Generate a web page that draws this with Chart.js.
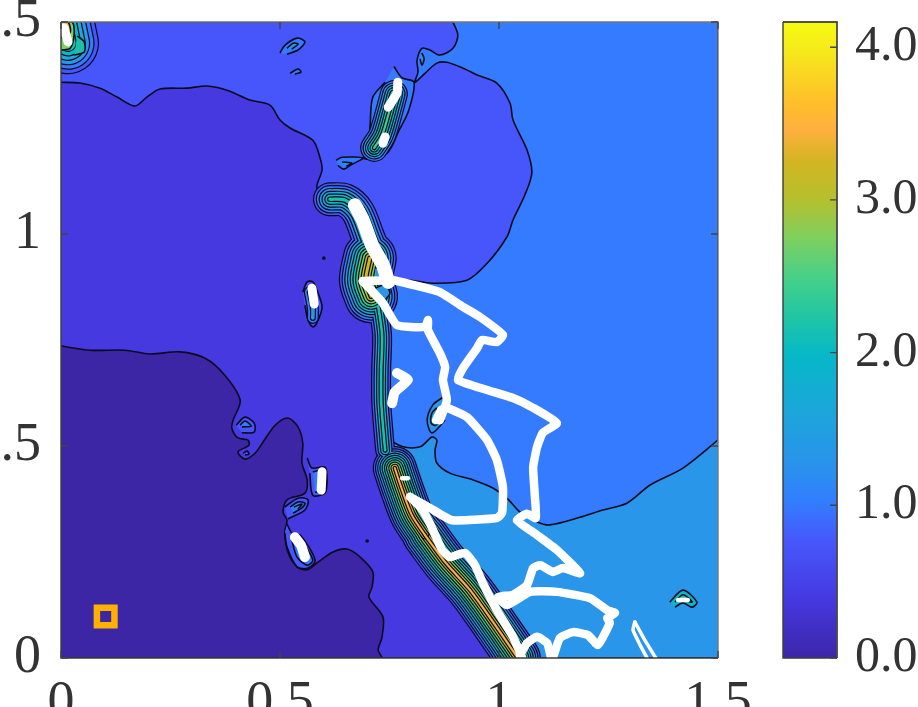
<!DOCTYPE html>
<html>
<head>
  <title>Contour map</title>
  <script src="https://cdn.jsdelivr.net/npm/chart.js"></script>
  <style>
    body { margin: 0; background: #fff; overflow: hidden; }
    canvas { position: absolute; top: 0; }
    #mapChart { left: 0; }
    #barChart { left: 760px; }
  </style>
</head>
<body>
  <canvas id="mapChart" width="760" height="707"></canvas>
  <canvas id="barChart" width="158" height="707"></canvas>
  <script>
    // axis labels
    const axisTicks = [0, 0.5, 1, 1.5];
    const axisTickLabels = ['0', '0.5', '1', '1.5'];
    const barTicks = [0, 1, 2, 3, 4];
    const barTickLabels = ['0.0', '1.0', '2.0', '3.0', '4.0'];
    const barRange = [0, 4.165];
    const barStopValues = [0, 0.38, 0.77, 1.03, 1.23, 1.56, 1.98, 2.2, 2.48, 2.74, 3.0, 3.26, 3.46, 3.65, 4.0, 4.165];
    const barStopColors = ['#3c26a8', '#4538e0', '#4658fb', '#327eff', '#2a90ee', '#1fa3dd', '#06b8c8', '#1cc4a8',
      '#45d08a', '#7cd060', '#b5c02e', '#d4b522', '#ffb040', '#ffc02a', '#f5ec1a', '#f8fa10'];

    // filled contour regions as [x, y]
    const baseRegion = [[0, 0], [1.5, 0], [1.5, 1.5], [0, 1.5]];
    const lowRegion = [[0, .736], [.066, .726], [.146, .726], [.203, .717], [.272, .722], [.329, .707], [.374, .667],
      [.409, .608], [.393, .561], [.390, .542], [.404, .519], [.427, .514], [.429, .502], [.404, .486], [.420, .469],
      [.443, .483], [.461, .509], [.489, .549], [.518, .566], [.541, .545], [.552, .507], [.550, .460], [.562, .420],
      [.557, .389], [.516, .373], [.507, .344], [.516, .325], [.511, .297], [.518, .250], [.539, .215], [.562, .208],
      [.584, .224], [.621, .250], [.653, .257], [.683, .238], [.712, .203], [.710, .167], [.703, .144], [.735, .097],
      [.733, .050], [.724, .019], [.731, 0], [0, 0]];
    const upperRegion = [[0, 1.5], [1.5, 1.5], [1.5, 0], [1.043, 0], [1.002, .066], [.934, .160], [.865, .231],
      [.815, .302], [.797, .349], [.781, .420], [.762, .467], [.728, .561], [.728, .750], [.717, .821], [.687, .891],
      [.701, .993], [.678, 1.052], [.648, 1.080], [.596, 1.092], [.584, 1.111], [.596, 1.151], [.591, 1.181],
      [.575, 1.221], [.523, 1.250], [.500, 1.269], [.477, 1.304], [.431, 1.316], [.379, 1.339], [.333, 1.349],
      [.288, 1.344], [.226, 1.342], [.196, 1.323], [.169, 1.302], [.128, 1.323], [.089, 1.344], [.043, 1.356], [0, 1.358]];
    const eastRegion = [[.895, 1.5], [.906, 1.469], [.895, 1.438], [.865, 1.422], [.842, 1.434], [.824, 1.438],
      [.813, 1.410], [.815, 1.382], [.808, 1.358], [.831, 1.379], [.858, 1.403], [.881, 1.405], [.918, 1.391],
      [.950, 1.375], [.995, 1.356], [1.025, 1.309], [1.032, 1.269], [1.064, 1.198], [1.075, 1.144], [1.059, 1.092],
      [1.032, 1.033], [1.018, .993], [.973, .931], [.927, .891], [.849, .884], [.762, .891], [.735, .844], [.728, .750],
      [.728, .561], [.747, .490], [.865, .325], [1.5, .373], [1.5, 1.5]];
    const southRegion = [[1.5, .514], [1.420, .448], [1.345, .408], [1.292, .365], [1.237, .349], [1.185, .332],
      [1.116, .314], [1.087, .321], [1.048, .344], [1.018, .377], [.986, .401], [.941, .420], [.888, .436], [.858, .460],
      [.854, .490], [.858, .514], [.847, .521], [.820, .498], [.781, .498], [.747, .521], [.740, .568], [.733, .538],
      [.762, .443], [.865, .219], [1.025, 0], [1.5, 0]];

    // small closed contours
    const islands = [
      [[.760, 1.395], [.779, 1.368], [.806, 1.358], [.794, 1.292], [.772, 1.245], [.744, 1.190], [.692, 1.178],
        [.703, 1.214], [.706, 1.262], [.712, 1.323], [.740, 1.358]],
      [[.500, 1.427], [.511, 1.445], [.539, 1.462], [.557, 1.453], [.541, 1.434], [.516, 1.424]],
      [[.516, 1.438], [.530, 1.450], [.541, 1.448], [.527, 1.436]],
      [[.523, 1.379], [.541, 1.389], [.548, 1.382], [.534, 1.377]],
      [[.628, 1.174], [.642, 1.181], [.689, 1.179], [.660, 1.162], [.646, 1.153], [.632, 1.162]],
      [[.642, 1.170], [.664, 1.167], [.651, 1.160]],
      [[.824, 1.427], [.829, 1.413], [.824, 1.398], [.820, 1.413]],
      [[.552, .863], [.562, .887], [.575, .887], [.584, .868], [.596, .828], [.584, .790], [.575, .781], [.564, .797], [.557, .832]],
      [[.872, .615], [.849, .597], [.836, .561], [.847, .531], [.877, .561]],
      [[.858, .590], [.847, .578], [.845, .554], [.856, .549], [.868, .580]],
      [[.400, .549], [.420, .568], [.441, .554], [.441, .533], [.413, .531]],
      [[.409, .549], [.420, .559], [.434, .547], [.413, .545]],
      [[.416, .483], [.425, .488], [.429, .481], [.420, .479]],
      [[.511, .356], [.541, .377], [.564, .373], [.557, .349], [.518, .328]],
      [[.523, .356], [.541, .368], [.557, .365], [.550, .354], [.530, .342]],
      [[.532, .356], [.550, .363], [.541, .351]],
      [[.562, .472], [.573, .448], [.603, .450], [.607, .420], [.603, .389], [.575, .384], [.568, .436]],
      [[.575, .439], [.603, .443], [.603, .396], [.580, .391]],
      [[.516, .316], [.530, .290], [.546, .290], [.580, .231], [.564, .212], [.539, .215], [.516, .262], [.511, .295]],
      [[.527, .278], [.539, .238], [.562, .219], [.575, .231], [.546, .285]],
      [[1.390, .132], [1.420, .160], [1.452, .132], [1.441, .120], [1.420, .130], [1.402, .120]],
      [[1.402, .132], [1.420, .149], [1.441, .132], [1.420, .137]]
    ];
    const islandBands = [1, 1, 2, 1, 1, 2, 2, 0, 2, 3, 0, 1, 0, 0, 1, 2, 0, 1, 0, 1, 4, 5];

    // ridge centre lines, drawn as nested contour bands
    const ridges = [
      [[.614, 1.082], [.648, 1.080], [.678, 1.052], [.701, .993], [.724, .934]],
      [[.705, .943], [.696, .891], [.708, .853]],
      [[.724, .832], [.733, .762], [.731, .679], [.731, .608], [.735, .549], [.740, .490]],
      [[.762, .448], [.779, .396], [.801, .337], [.831, .290]],
      [[.831, .290], [.877, .226], [.934, .160], [.991, .078], [1.043, 0]],
      [[.007, 1.495], [.016, 1.450]],
      [[.760, 1.330], [.747, 1.280], [.733, 1.233], [.715, 1.203]],
      [[.568, .863], [.575, .825], [.575, .802]]
    ];
    const ridgeWidths = [34, 54, 20, 44, 46, 62, 28, 12];
    const ridgeBands = [
      [0, 1, 2, 3, 4, 5],
      [0, 1, 2, 3, 4, 5, 6, 7, 8, 9],
      [0, 2, 4, 5],
      [0, 1, 2, 3, 4, 5, 6, 7, 9, 10],
      [0, 1, 2, 3, 4, 5, 6, 7, 8, 10],
      [0, 1, 2, 3, 4, 5, 6],
      [1, 2, 3, 4, 5, 6],
      [1, 2]
    ];
    const cornerPatches = [
      [[.037, 1.467], [.053, 1.453], [.053, 1.429], [.030, 1.422]],
      [[0, 1.5], [.025, 1.5], [.030, 1.471], [.021, 1.438], [0, 1.434]],
      [[0, 1.5], [.016, 1.5], [.021, 1.476], [0, 1.462]],
      [[.717, .920], [.733, .922], [.735, .901], [.719, .896]],
      [[.717, .872], [.740, .880], [.751, .861], [.740, .844]]
    ];
    const cornerBands = [5, 7, 10, 2, 2];

    // white traces on top
    const whiteTraces = [
      [[.671, 1.068], [.689, 1.033], [.710, .974], [.735, .927], [.747, .887]],
      [[.689, .889], [.758, .891], [.804, .880], [.865, .863], [.918, .828], [.957, .804], [1.009, .762], [.995, .745],
        [.961, .750], [.950, .731], [.918, .684], [.906, .656], [.973, .632], [1.032, .613], [1.078, .590], [1.132, .554],
        [1.100, .531], [1.087, .498], [1.078, .450], [1.082, .380], [1.084, .330], [1.064, .340], [1.041, .325],
        [1.087, .290], [1.132, .255], [1.185, .200], [1.146, .212], [1.123, .203], [1.094, .219], [1.078, .212],
        [1.064, .172], [1.032, .149], [.998, .144], [1.018, .125], [1.071, .156], [1.132, .156], [1.208, .141],
        [1.247, .113], [1.265, .106], [1.247, .094], [1.253, .083], [1.226, .031], [1.203, .054], [1.169, .061],
        [1.139, .047], [1.123, 0]],
      [[1.048, .007], [1.064, .035], [1.087, .050], [1.110, .035], [1.119, 0]],
      [[.689, .889], [.735, .837], [.767, .785], [.831, .781], [.838, .797], [.838, .773], [.865, .719], [.877, .686],
        [.872, .656], [.881, .608], [.865, .561]],
      [[.868, .585], [.881, .590], [.927, .568], [.973, .514], [.995, .467], [1.009, .403], [1.007, .342], [.995, .330],
        [.893, .325], [.842, .354], [.797, .380]],
      [[.797, .380], [.820, .356], [.842, .318], [.870, .255], [.888, .238], [.922, .248], [.945, .219], [.963, .177],
        [.995, .113], [1.032, .050], [1.053, 0]],
      [[.767, .672], [.792, .656], [.762, .627], [.756, .601]],
      [[.769, 1.358], [.767, 1.332], [.747, 1.299]],
      [[.740, 1.229], [.735, 1.214]],
      [[.573, .872], [.578, .835]],
      [[.596, .439], [.594, .396]],
      [[.534, .285], [.548, .266], [.557, .238]],
      [[.779, .424], [.792, .424]],
      [[1.310, .085], [1.333, .042], [1.358, 0]],
      [[1.310, .085], [1.306, .066], [1.322, .031], [1.338, 0]],
      [[1.409, .137], [1.431, .137]],
      [[.856, .561], [.865, .580]],
      [[.007, 1.486], [.016, 1.453]]
    ];
    const whiteWidths = [14, 8.5, 8.5, 8.5, 8.5, 8.5, 10, 9, 9, 9, 9, 10, 4.5, 3.5, 3.5, 4.5, 8, 9];

    const markerPoint = [[.102, .098]];
    const dotPoints = [[.600, .943], [.699, .276]];

    // styles
    const regionColors = ['#4539df', '#3c26a5', '#4656fb', '#347bff', '#2a96ea'];
    const bandColors = ['#4656fb', '#347bff', '#2a96ea', '#1ea8d6', '#06b8c8', '#1cc0a8', '#3ccf88', '#7cd060',
      '#b5c02e', '#d4b522', '#ffb040', '#ffc82a', '#f5e81e'];
    const lineColor = '#0b0b1e';
    const outlineWidth = 1.6;
    const ridgeLineWidth = 1.2;
    const textFont = '"Liberation Serif", serif';

    function polygon(points, color) {
      return { data: points, showLine: true, fill: 'shape', backgroundColor: color, borderColor: lineColor,
        borderWidth: outlineWidth, pointRadius: 0, tension: 0.3, borderJoinStyle: 'round' };
    }
    function stroke(points, color, width, tension) {
      return { data: points, showLine: true, fill: false, borderColor: color, borderWidth: width, pointRadius: 0,
        tension: tension, borderCapStyle: 'round', borderJoinStyle: 'round' };
    }

    // painter's order first, reversed below since Chart.js draws dataset 0 last
    const layers = [];
    [baseRegion, lowRegion, upperRegion, eastRegion, southRegion].forEach((r, i) => layers.push(polygon(r, regionColors[i])));
    islands.forEach((p, i) => layers.push(polygon(p, bandColors[islandBands[i]])));
    for (let b = 0; b < bandColors.length; b++) {
      const active = [];
      ridges.forEach((path, i) => {
        const k = ridgeBands[i].indexOf(b);
        if (k >= 0) active.push({ path, w: ridgeWidths[i] * (1 - k / ridgeBands[i].length) });
      });
      active.forEach(a => layers.push(stroke(a.path, lineColor, a.w, 0.3)));
      active.forEach(a => layers.push(stroke(a.path, bandColors[b], Math.max(a.w - 2 * ridgeLineWidth, 0.5), 0.3)));
    }
    cornerPatches.forEach((p, i) => layers.push(polygon(p, bandColors[cornerBands[i]])));
    whiteTraces.forEach((t, i) => layers.push(stroke(t, '#ffffff', whiteWidths[i], 0.15)));
    layers.push({ data: dotPoints, pointRadius: 1.8, pointBackgroundColor: lineColor, pointBorderWidth: 0 });
    layers.push({ data: markerPoint, pointStyle: 'rect', pointRadius: 12.4, pointBorderWidth: 6.5,
      pointBorderColor: '#ffb000', pointBackgroundColor: 'rgba(0,0,0,0)' });

    // box and inward ticks, the way the picture has them
    function framePlugin(allSides, xTickValues, yTickValues) {
      return {
        id: 'frame',
        afterDraw(chart) {
          const { ctx, chartArea: a, scales } = chart;
          ctx.save();
          ctx.lineWidth = 1.4;
          ctx.strokeStyle = '#777';
          ctx.beginPath();
          ctx.moveTo(a.left, a.top); ctx.lineTo(a.right, a.top); ctx.lineTo(a.right, a.bottom);
          ctx.stroke();
          ctx.strokeStyle = '#3c3c3c';
          ctx.beginPath();
          ctx.moveTo(a.left, a.top); ctx.lineTo(a.left, a.bottom); ctx.lineTo(a.right, a.bottom);
          if (!allSides) { ctx.moveTo(a.left, a.top); ctx.lineTo(a.right, a.top); ctx.lineTo(a.right, a.bottom); }
          ctx.stroke();
          ctx.strokeStyle = '#444';
          ctx.beginPath();
          yTickValues.forEach(v => {
            const y = scales.y.getPixelForValue(v);
            if (allSides) { ctx.moveTo(a.left, y); ctx.lineTo(a.left + 7, y); }
            ctx.moveTo(a.right, y); ctx.lineTo(a.right - 7, y);
          });
          xTickValues.forEach(v => {
            const x = scales.x.getPixelForValue(v);
            ctx.moveTo(x, a.bottom); ctx.lineTo(x, a.bottom - 7);
            ctx.moveTo(x, a.top); ctx.lineTo(x, a.top + 7);
          });
          ctx.stroke();
          ctx.restore();
        }
      };
    }

    function fitAxis(size, key) {
      return s => {
        s[key] = size;
        s.paddingLeft = s.paddingRight = s.paddingTop = s.paddingBottom = 0;
      };
    }

    new Chart(document.getElementById('mapChart'), {
      type: 'scatter',
      data: { datasets: layers.reverse() },
      plugins: [framePlugin(true, axisTicks, axisTicks)],
      options: {
        responsive: false,
        animation: false,
        layout: { padding: { top: 22, right: 42, left: 0, bottom: 0 } },
        plugins: { legend: { display: false }, tooltip: { enabled: false } },
        scales: {
          x: {
            type: 'linear', min: 0, max: 1.5, afterFit: fitAxis(49, 'height'),
            grid: { display: false }, border: { display: false },
            ticks: { stepSize: 0.5, padding: 5, maxRotation: 0, autoSkip: false, color: '#333',
              font: { family: textFont, size: 54 },
              callback: v => axisTickLabels[axisTicks.indexOf(v)] }
          },
          y: {
            type: 'linear', min: 0, max: 1.5, afterFit: fitAxis(61, 'width'),
            grid: { display: false }, border: { display: false },
            ticks: { stepSize: 0.5, padding: 12, autoSkip: false, color: '#333',
              font: { family: textFont, size: 54 },
              callback: v => axisTickLabels[axisTicks.indexOf(v)] }
          }
        }
      }
    });

    function barGradient(context) {
      const chart = context.chart;
      if (!chart.chartArea) return barStopColors[0];
      const y = chart.scales.y;
      const g = chart.ctx.createLinearGradient(0, y.getPixelForValue(barRange[0]), 0, y.getPixelForValue(barRange[1]));
      barStopValues.forEach((v, i) => g.addColorStop(v / barRange[1], barStopColors[i]));
      return g;
    }

    new Chart(document.getElementById('barChart'), {
      type: 'bar',
      data: { labels: ['level'], datasets: [{ data: [barRange], backgroundColor: barGradient, borderWidth: 0,
        barPercentage: 1, categoryPercentage: 1 }] },
      plugins: [framePlugin(false, [], barTicks)],
      options: {
        responsive: false,
        animation: false,
        layout: { padding: { top: 22, left: 23, bottom: 49, right: 0 } },
        plugins: { legend: { display: false }, tooltip: { enabled: false } },
        scales: {
          x: { display: false },
          y: {
            position: 'right', min: barRange[0], max: barRange[1], afterFit: fitAxis(81, 'width'),
            grid: { display: false }, border: { display: false },
            ticks: { stepSize: 1, includeBounds: false, padding: 10, color: '#333',
              font: { family: textFont, size: 50 },
              callback: v => barTickLabels[barTicks.indexOf(v)] }
          }
        }
      }
    });
  </script>
</body>
</html>
